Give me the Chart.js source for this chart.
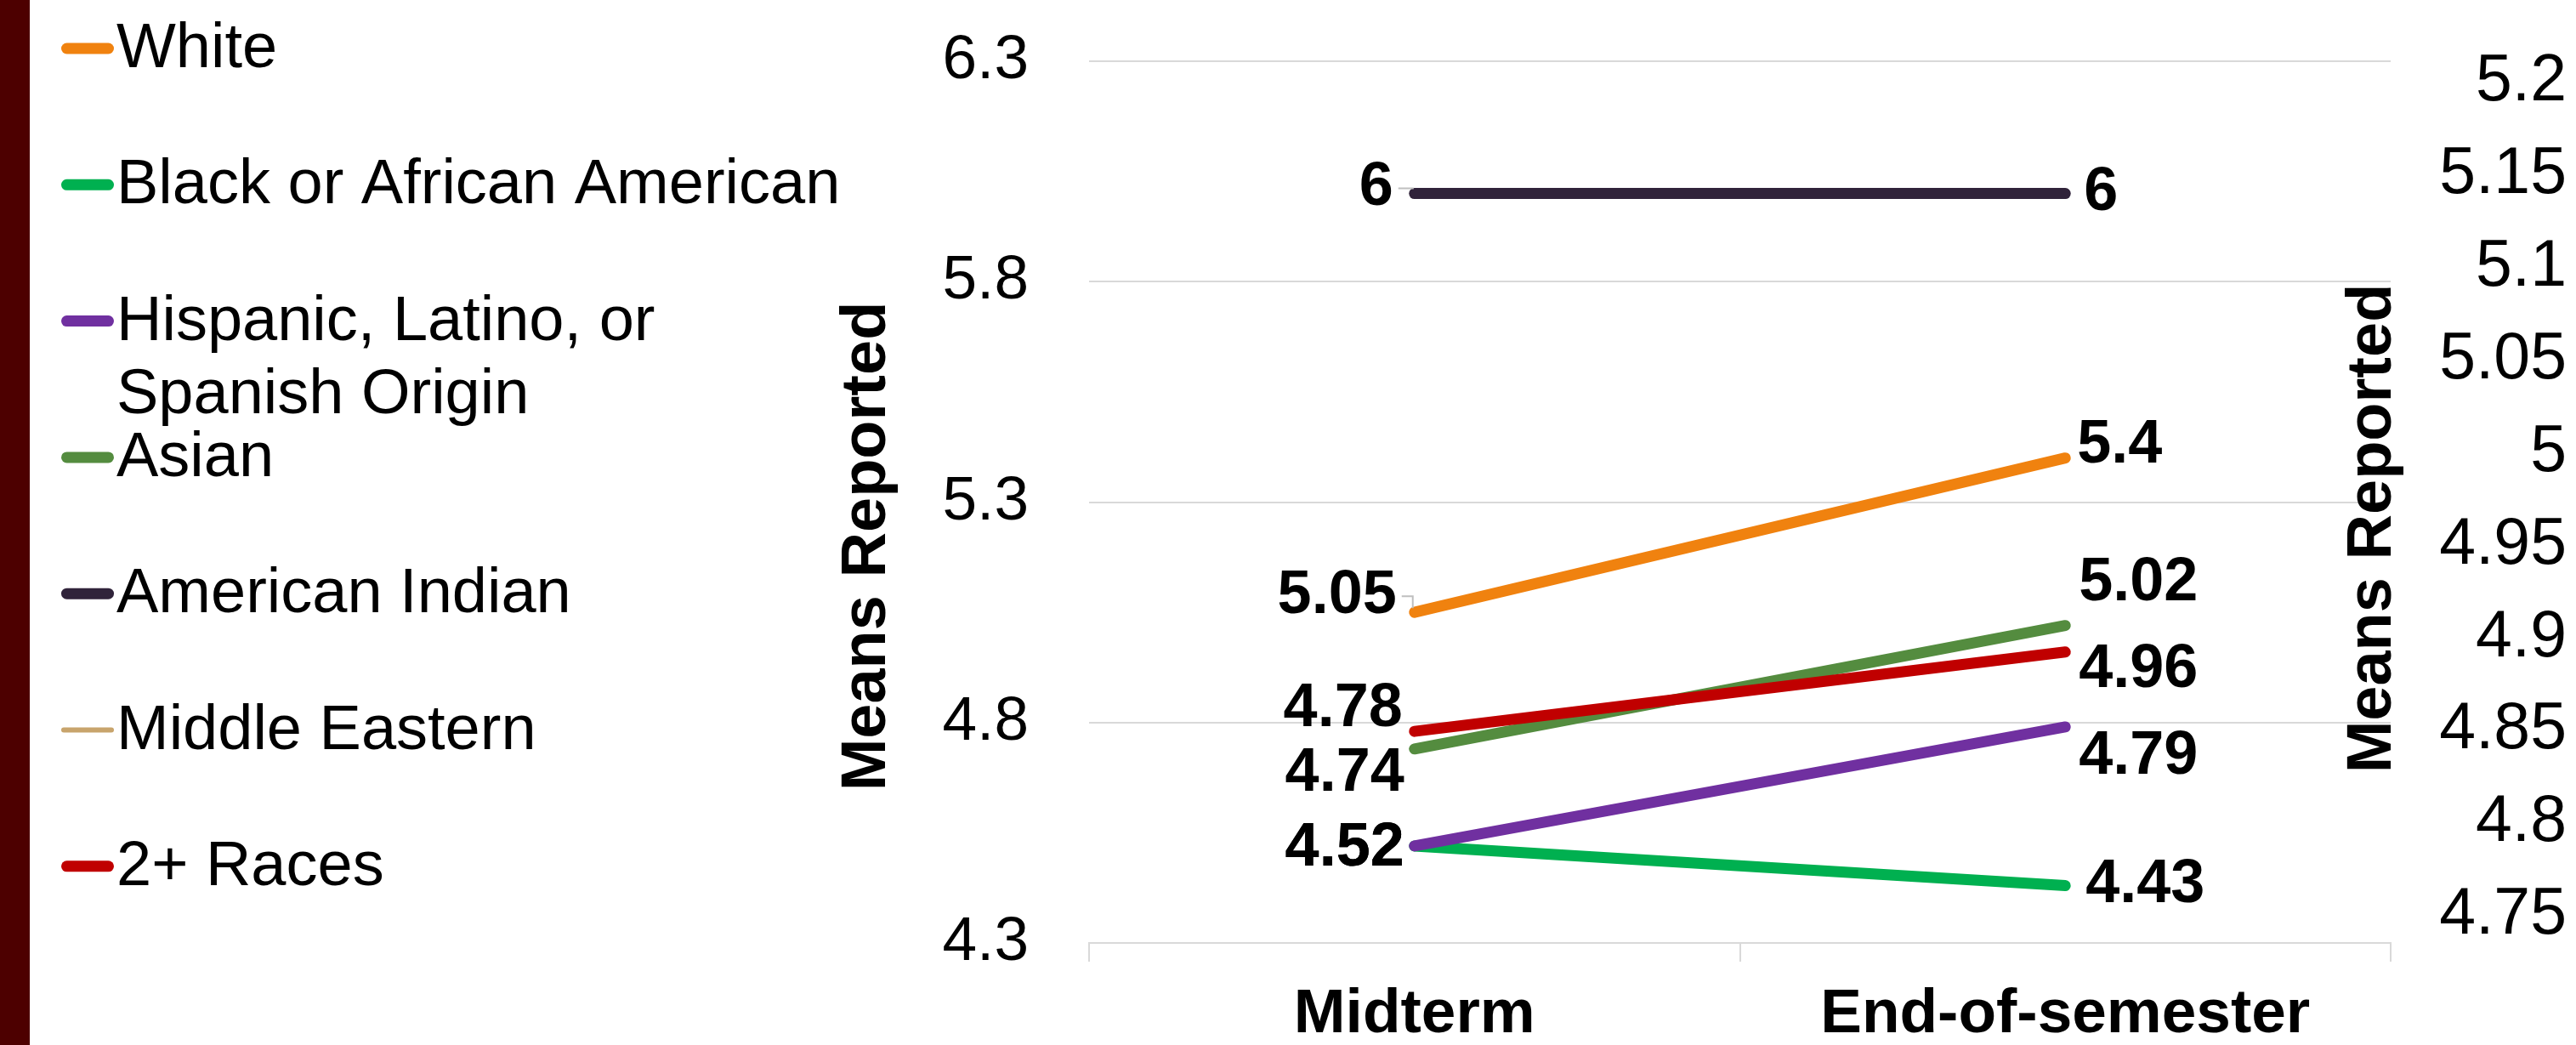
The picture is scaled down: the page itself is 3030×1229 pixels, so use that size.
<!DOCTYPE html>
<html>
<head>
<meta charset="utf-8">
<script src="https://cdn.jsdelivr.net/npm/chart.js@4.4.1/dist/chart.umd.min.js"></script>
<style>
  html, body { margin: 0; padding: 0; background: #ffffff; }
  canvas { display: block; }
</style>
</head>
<body>
<canvas id="chart" width="3030" height="1229"></canvas>
<script>
// Survey means by race/ethnicity, midterm vs end of semester
const categories = ['Midterm', 'End-of-semester'];
const seriesNames = [
  'White',
  'Black or African American',
  'Hispanic, Latino, or Spanish Origin',
  'Asian',
  'American Indian',
  'Middle Eastern',
  '2+ Races'
];
const white = [5.05, 5.4];
const blackAfricanAmerican = [4.52, 4.43];
const hispanicLatino = [4.52, 4.79];
const asian = [4.74, 5.02];
const americanIndian = [6, 6];
const middleEastern = [null, null];
const twoOrMoreRaces = [4.78, 4.96];

const leftTicks = [4.3, 4.8, 5.3, 5.8, 6.3];
const rightTicks = [4.75, 4.8, 4.85, 4.9, 4.95, 5, 5.05, 5.1, 5.15, 5.2];
const axisTitle = 'Means Reported';

// ---- styling ----
const FONT = '"Liberation Sans", Arial, Helvetica, sans-serif';
const seriesData = [white, blackAfricanAmerican, hispanicLatino, asian, americanIndian, middleEastern, twoOrMoreRaces];
const seriesColors = ['#F0820F', '#00B050', '#7030A0', '#548C3F', '#30233A', '#C8A46C', '#C00000'];
const seriesWidths = [13, 13, 13, 13, 13, 6, 13];
// label offsets from each point: [dx, dy, textAlign, leader]
const labelPlacement = [
  [[-21, -19, 'right', true], [14, -15, 'left', false]],
  [[-12, 3, 'right', false], [24, 0, 'left', false]],
  [[-12, 3, 'right', false], [16, 35, 'left', false]],
  [[-12, 29, 'right', false], [16, -50, 'left', false]],
  [[-25, -6, 'right', true], [22, 0, 'left', false]],
  null,
  [[-14, -26, 'right', false], [16, 21, 'left', false]]
];

const datasets = seriesNames.map((name, i) => ({
  label: name,
  data: seriesData[i],
  borderColor: seriesColors[i],
  backgroundColor: seriesColors[i],
  borderWidth: seriesWidths[i],
  yAxisID: i === 5 ? 'y2' : 'y',
  order: seriesNames.length - i,
  fill: false,
  labelPlacement: labelPlacement[i]
}));

// Maroon edge strip and the stacked legend on the left
const sideLegend = {
  id: 'sideLegend',
  beforeDraw(chart) {
    const ctx = chart.ctx;
    ctx.save();
    ctx.fillStyle = '#4D0000';
    ctx.fillRect(0, 0, 35, chart.height);
    ctx.restore();
  },
  afterDraw(chart) {
    const ctx = chart.ctx;
    ctx.save();
    ctx.font = `74px ${FONT}`;
    ctx.fillStyle = '#000000';
    ctx.textAlign = 'left';
    ctx.textBaseline = 'alphabetic';
    const maxW = 890;
    chart.data.datasets.forEach((ds, i) => {
      const y = 57 + i * 160.3;
      ctx.strokeStyle = ds.borderColor;
      ctx.lineWidth = ds.borderWidth;
      ctx.lineCap = 'round';
      const half = ctx.lineWidth / 2;
      ctx.beginPath();
      ctx.moveTo(72 + half, y);
      ctx.lineTo(134 - half, y);
      ctx.stroke();
      // word wrap
      const words = ds.label.split(' ');
      const lines = [];
      let cur = '';
      words.forEach(w => {
        const test = cur ? cur + ' ' + w : w;
        if (ctx.measureText(test).width > maxW && cur) {
          lines.push(cur);
          cur = w;
        } else {
          cur = test;
        }
      });
      if (cur) lines.push(cur);
      lines.forEach((ln, k) => ctx.fillText(ln, 137, y + 22 + k * 86));
    });

    // axis titles, both reading bottom-to-top
    const area = chart.chartArea;
    const mid = (area.top + area.bottom) / 2;
    ctx.font = `bold 74px ${FONT}`;
    ctx.textAlign = 'center';
    ctx.textBaseline = 'alphabetic';
    [[area.left - 240, mid + 52], [area.right, mid + 31]].forEach(([x, y]) => {
      ctx.save();
      ctx.translate(x, y);
      ctx.rotate(-Math.PI / 2);
      ctx.fillText(axisTitle, 0, 0);
      ctx.restore();
    });
    ctx.restore();
  }
};

// Value labels beside each end point
const pointLabels = {
  id: 'pointLabels',
  afterDatasetsDraw(chart) {
    const ctx = chart.ctx;
    ctx.save();
    ctx.font = `bold 72px ${FONT}`;
    ctx.fillStyle = '#000000';
    ctx.textBaseline = 'middle';
    chart.data.datasets.forEach((ds, i) => {
      if (!ds.labelPlacement) return;
      const meta = chart.getDatasetMeta(i);
      meta.data.forEach((pt, j) => {
        const v = ds.data[j];
        if (v == null) return;
        const [dx, dy, align, leader] = ds.labelPlacement[j];
        const text = String(v);
        ctx.textAlign = align;
        const tx = pt.x + dx;
        const ty = pt.y + dy;
        ctx.fillText(text, tx, ty);
        if (leader) {
          ctx.strokeStyle = '#BFBFBF';
          ctx.lineWidth = 2;
          ctx.beginPath();
          ctx.moveTo(tx + 6, ty);
          ctx.lineTo(pt.x - 2, ty);
          ctx.lineTo(pt.x - 2, pt.y - 5);
          ctx.stroke();
        }
      });
    });
    ctx.restore();
  }
};

const fmt = v => String(v);
// fixed axis boxes; tick padding must not push the plot area inward
const fixVertical = width => s => {
  s.width = width;
  s.paddingTop = 0;
  s.paddingBottom = 0;
};

new Chart(document.getElementById('chart'), {
  type: 'line',
  data: { labels: categories, datasets },
  options: {
    responsive: false,
    animation: false,
    devicePixelRatio: 1,
    layout: { padding: { top: 72, right: 11, bottom: 0, left: 0 } },
    plugins: { legend: { display: false }, tooltip: { enabled: false } },
    elements: {
      point: { radius: 0, hoverRadius: 0 },
      line: { tension: 0, borderCapStyle: 'round', borderJoinStyle: 'round' }
    },
    scales: {
      x: {
        type: 'category',
        offset: true,
        grid: { offset: true, drawOnChartArea: false, drawTicks: true, tickLength: 22, color: '#D9D9D9', lineWidth: 2 },
        border: { display: true, color: '#D9D9D9', width: 2 },
        ticks: { padding: 19, color: '#000000', maxRotation: 0, font: { family: FONT, size: 73, weight: 'bold' } },
        afterFit(s) { s.height = 120; s.paddingLeft = 0; s.paddingRight = 0; }
      },
      y: {
        position: 'left',
        min: 4.3,
        max: 6.3,
        afterBuildTicks(s) { s.ticks = leftTicks.map(v => ({ value: v })); },
        grid: { color: '#D9D9D9', lineWidth: 2, drawTicks: false },
        border: { display: false },
        ticks: { padding: 71, color: '#000000', callback: fmt, font: { family: FONT, size: 73 } },
        afterFit: fixVertical(1281)
      },
      y2: {
        position: 'right',
        min: 4.7353,
        max: 5.2115,
        afterBuildTicks(s) { s.ticks = rightTicks.map(v => ({ value: v })); },
        grid: { display: false, drawTicks: false },
        border: { display: false },
        ticks: { crossAlign: 'far', color: '#000000', callback: fmt, font: { family: FONT, size: 77 } },
        afterFit: fixVertical(207)
      }
    }
  },
  plugins: [sideLegend, pointLabels]
});
</script>
</body>
</html>
